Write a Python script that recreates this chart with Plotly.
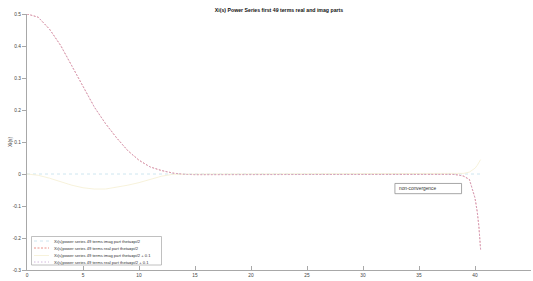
import plotly.graph_objects as go

# ---- data ----
t = [0, 1, 2, 3, 4, 5, 6, 7, 8, 9, 10, 11, 12, 13, 14, 15, 16, 18, 20, 25, 30,
     35, 37, 38, 38.5, 39, 39.5, 40, 40.2, 40.35, 40.5]

imag_pi2 = [0.0] * len(t)

real_pi2 = [0.500, 0.490, 0.453, 0.402, 0.338, 0.272, 0.210, 0.158, 0.113, 0.073,
            0.043, 0.022, 0.011, 0.003, -0.001, -0.002, -0.002, -0.001, 0.0, 0.0, 0.0,
            0.0, 0.0, -0.001, -0.003, -0.007, -0.017, -0.075, -0.118, -0.165, -0.236]

imag_pi2_01 = [0.0, -0.004, -0.013, -0.024, -0.035, -0.043, -0.047, -0.047, -0.042, -0.035,
               -0.027, -0.016, -0.007, -0.001, 0.0, 0.0, 0.0, 0.0, 0.0, 0.0, 0.0,
               0.0, 0.0, 0.0, 0.001, 0.002, 0.006, 0.018, 0.027, 0.036, 0.045]

real_pi2_01 = [0.500, 0.490, 0.453, 0.402, 0.338, 0.272, 0.210, 0.158, 0.113, 0.073,
               0.043, 0.022, 0.011, 0.003, -0.001, -0.002, -0.002, -0.001, 0.0, 0.0, 0.0,
               0.0, 0.0, -0.001, -0.003, -0.007, -0.017, -0.075, -0.118, -0.165, -0.236]

series_names = [
    "Xi(s)power series 49 terms imag part theta=pi/2",
    "Xi(s)power series 49 terms real part theta=pi/2",
    "Xi(s)power series 49 terms imag part theta=pi/2 + 0.1",
    "Xi(s)power series 49 terms real part theta=pi/2 + 0.1",
]

x_tickvals = [0, 5, 10, 15, 20, 25, 30, 35, 40, 45]
x_ticktext = ["0", "5", "10", "15", "20", "25", "30", "35", "40", "45"]
y_tickvals = [-0.3, -0.2, -0.1, 0, 0.1, 0.2, 0.3, 0.4, 0.5]
y_ticktext = ["-0.3", "-0.2", "-0.1", "0", "0.1", "0.2", "0.3", "0.4", "0.5"]

title_text = "Xi(s) Power Series first 49 terms real and imag parts"
ylabel_text = "Xi(s)"
note_text = "non-convergence"

# ---- styles ----
FONT = "Liberation Sans"
colors = ["#c2e0ec", "#e5766c", "#f5efd2", "#c8a6d4"]
dashes = ["dot", "2px,1.5px", "solid", "1.5px,2px"]
widths = [0.8, 0.8, 0.8, 0.8]
series = [imag_pi2, real_pi2, imag_pi2_01, real_pi2_01]

fig = go.Figure()
for name, ys, c, d, w in zip(series_names, series, colors, dashes, widths):
    fig.add_trace(go.Scatter(x=t, y=ys, mode="lines", name=name,
                             line=dict(color=c, width=w, dash=d),
                             showlegend=False, hoverinfo="skip"))

W, H = 533, 281
L, R, T, B = 27, 2, 14, 11
pw, ph = W - L - R, H - T - B


def px2paper_x(px):
    return (px - L) / pw


def px2paper_y(py):
    return (H - B - py) / ph


shapes = []
annotations = []

# manual legend (compact, like the reference)
shapes.append(dict(type="rect", xref="paper", yref="paper",
                   x0=px2paper_x(31.5), x1=px2paper_x(161.5),
                   y0=px2paper_y(265), y1=px2paper_y(236.5),
                   line=dict(color="#b0b0b0", width=0.8), fillcolor="white"))
rows = [241, 248, 255.5, 262]
for name, c, d, py in zip(series_names, colors, dashes, rows):
    shapes.append(dict(type="line", xref="paper", yref="paper",
                       x0=px2paper_x(34), x1=px2paper_x(49),
                       y0=px2paper_y(py), y1=px2paper_y(py),
                       line=dict(color=c, width=0.8, dash=d)))
    annotations.append(dict(text=name, xref="paper", yref="paper",
                            x=px2paper_x(52), y=px2paper_y(py),
                            xanchor="left", yanchor="middle", showarrow=False,
                            font=dict(family=FONT, size=4.1, color="#333333")))

# non-convergence box
shapes.append(dict(type="rect", xref="x", yref="y",
                   x0=32.85, x1=38.8, y0=-0.0615, y1=-0.0295,
                   line=dict(color="#909090", width=0.8), fillcolor="white"))
annotations.append(dict(text=note_text, xref="x", yref="y", x=33.0, y=-0.0455,
                        xanchor="left", yanchor="middle", showarrow=False,
                        font=dict(family=FONT, size=4.8, color="#333333")))

# y label
annotations.append(dict(text=ylabel_text, xref="paper", yref="paper",
                        x=px2paper_x(10), y=0.5, textangle=-90,
                        xanchor="center", yanchor="middle", showarrow=False,
                        font=dict(family=FONT, size=5, color="#333333")))

fig.update_layout(
    width=W, height=H,
    margin=dict(l=L, r=R, t=T, b=B, pad=0),
    paper_bgcolor="white", plot_bgcolor="white",
    title=dict(text="<b>" + title_text + "</b>", x=0.5, xref="paper",
               y=1 - 10.5 / H, yref="container", xanchor="center", yanchor="middle",
               font=dict(family=FONT, size=5.2, color="#111111")),
    shapes=shapes, annotations=annotations,
    showlegend=False, hovermode=False,
)
fig.update_xaxes(range=[0, 45], tickvals=x_tickvals, ticktext=x_ticktext,
                 showgrid=False, zeroline=False, showline=True,
                 linecolor="#a8a8a8", linewidth=1, ticks="inside", ticklen=4,
                 tickcolor="#a8a8a8", tickfont=dict(family=FONT, size=4.8, color="#444444"))
fig.update_yaxes(range=[-0.3, 0.5], tickvals=y_tickvals, ticktext=y_ticktext,
                 showgrid=False, zeroline=False, showline=True,
                 linecolor="#a8a8a8", linewidth=1, ticks="outside", ticklen=4,
                 tickcolor="#a8a8a8", tickfont=dict(family=FONT, size=4.8, color="#444444"))

fig.write_html("out.html", config={"displayModeBar": False},
               post_script="document.body.style.margin='0px';")
